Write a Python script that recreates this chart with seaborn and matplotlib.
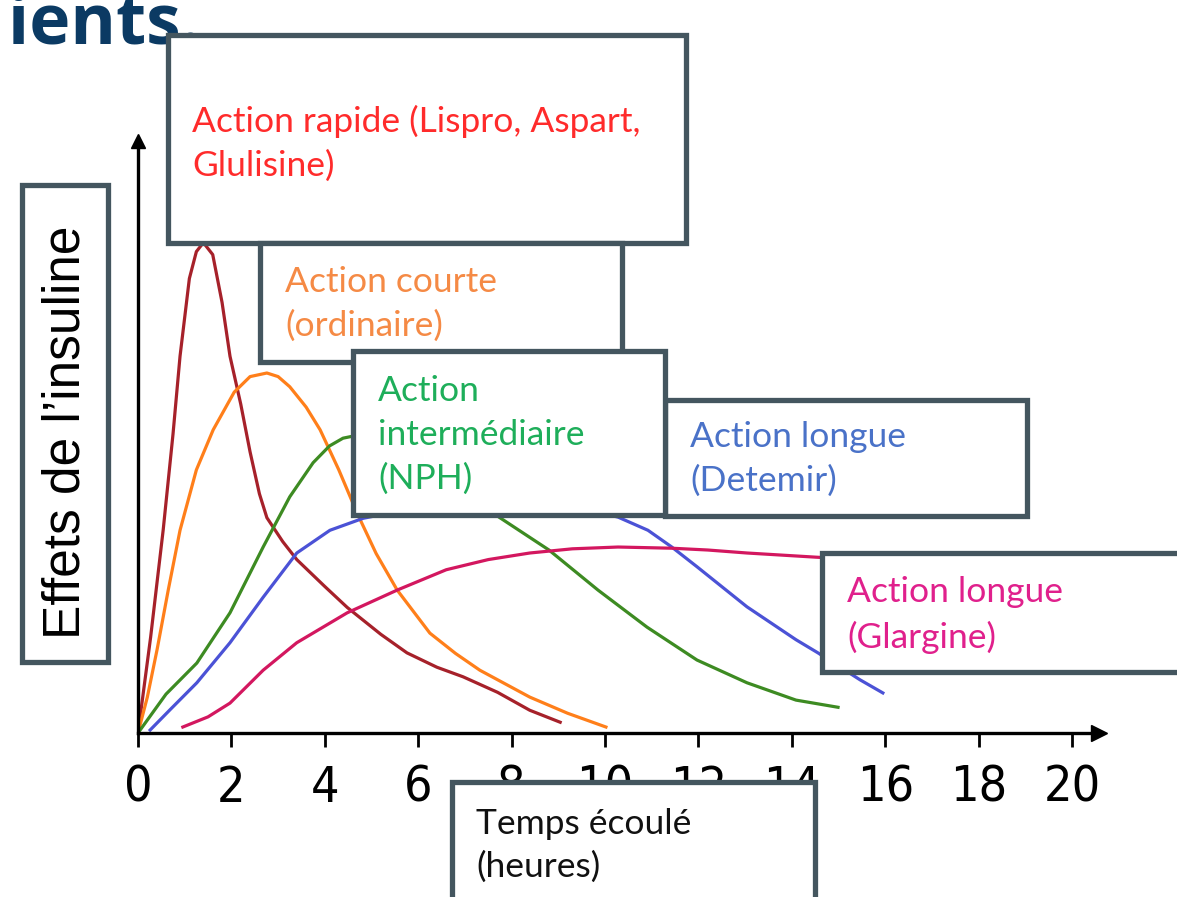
import matplotlib
matplotlib.use("Agg")
import matplotlib.pyplot as plt
from matplotlib.patches import Rectangle
from matplotlib import font_manager
import seaborn as sns
import pandas as pd

# ---------------- data ----------------
rapid_h = [0, 0.27, 0.54, 0.75, 0.9, 1.1, 1.25, 1.4, 1.6, 1.8, 1.97, 2.2, 2.4, 2.6, 2.76, 3.1, 3.4, 4.0, 4.48, 5.2, 5.76, 6.4, 6.96, 7.7, 8.39, 9.04]
rapid_e = [0, 16, 34, 50, 63, 76, 80.5, 82, 80, 72, 63, 55, 47, 40, 36, 32, 29, 24.5, 21, 16.5, 13.4, 11, 9.4, 6.8, 3.8, 1.8]

courte_h = [0, 0.2, 0.41, 0.65, 0.9, 1.25, 1.61, 2.06, 2.4, 2.76, 3.0, 3.25, 3.6, 3.9, 4.3, 4.69, 5.1, 5.55, 6.25, 6.8, 7.32, 8.39, 9.2, 10.02]
courte_e = [0, 6, 14, 24, 33.9, 44, 50.7, 57, 59.6, 60.2, 59.6, 57.9, 54.5, 50.7, 44, 36.8, 30, 23.9, 16.7, 13.3, 10.5, 6.0, 3.3, 1.0]

nph_h = [0, 0.6, 1.26, 1.97, 2.68, 3.25, 3.75, 4.1, 4.39, 4.7, 5.3, 6.0, 6.8, 7.3, 7.73, 8.8, 9.85, 10.9, 11.97, 13.04, 14.09, 14.99]
nph_e = [0, 6.5, 11.7, 20.1, 31.1, 39.5, 45.2, 48, 49.3, 49.8, 49, 46.5, 42, 39, 36.1, 30.6, 23.9, 17.7, 12.2, 8.4, 5.5, 4.3]

detemir_h = [0.26, 0.7, 1.26, 1.97, 2.68, 3.4, 4.11, 4.82, 5.4, 6.2, 7.0, 8.0, 9.0, 9.8, 10.28, 10.92, 11.43, 11.97, 13.04, 14.09, 14.56, 15.46, 15.95]
detemir_e = [0.5, 4, 8.4, 15.1, 22.7, 30.1, 33.9, 35.9, 36.8, 37.3, 37.6, 37.8, 37.6, 37, 36.1, 33.9, 31.1, 27.8, 21.1, 15.6, 13.4, 8.9, 6.7]

glargine_h = [0.96, 1.5, 1.97, 2.68, 3.4, 4.48, 5.55, 6.6, 7.5, 8.39, 9.3, 10.28, 11.43, 12.2, 13.04, 14.52, 15.0]
glargine_e = [1.0, 2.7, 5.0, 10.5, 15.1, 20.1, 23.9, 27.3, 29.0, 30.1, 30.8, 31.1, 30.9, 30.6, 30.1, 29.4, 29.2]

x_ticks = [0, 2, 4, 6, 8, 10, 12, 14, 16, 18, 20]
x_tick_labels = [str(t) for t in x_ticks]

series_names = ["rapide", "courte", "nph", "detemir", "glargine"]
line_colors = ["#A6212A", "#FF7F1A", "#3D8B22", "#4B52D6", "#D3175F"]

labels = [
    "Action rapide (Lispro, Aspart,\nGlulisine)",
    "Action courte\n(ordinaire)",
    "Action\nintermédiaire\n(NPH)",
    "Action longue\n(Detemir)",
    "Action longue\n(Glargine)",
]
label_colors = ["#FF2B2B", "#F58A45", "#1EAE5A", "#4A72C8", "#E0208C"]

ylabel = "Effets de l’insuline"
xlabel = "Temps écoulé\n(heures)"
title_fragment = "ients."

frames = []
for name, h, e in zip(series_names,
                      [rapid_h, courte_h, nph_h, detemir_h, glargine_h],
                      [rapid_e, courte_e, nph_e, detemir_e, glargine_e]):
    frames.append(pd.DataFrame({"heures": h, "effet": e, "type": name}))
df = pd.concat(frames, ignore_index=True)

# ---------------- figure ----------------
W, H = 1177, 897
fig = plt.figure(figsize=(W / 100, H / 100), dpi=100)
fig.patch.set_facecolor("white")

def fx(px):
    return px / W

def fy(py):
    return 1 - py / H

ax_left, ax_right, ax_bottom, ax_top = 138, 1099, 733, 141
ax = fig.add_axes([fx(ax_left), fy(ax_bottom), fx(ax_right - ax_left), (ax_bottom - ax_top) / H])
ax.set_facecolor("none")

sns.lineplot(data=df, x="heures", y="effet", hue="type", palette=dict(zip(series_names, line_colors)),
             sort=False, estimator=None, linewidth=2.3, legend=False, ax=ax)

px_per_hour = (1072 - 138) / 20
ax.set_xlim(0, (ax_right - ax_left) / px_per_hour)
ax.set_ylim(0, (ax_bottom - ax_top) / 5.98)
for s in ["top", "right"]:
    ax.spines[s].set_visible(False)
for s in ["left", "bottom"]:
    ax.spines[s].set_linewidth(2.4)
    ax.spines[s].set_color("black")
    ax.spines[s].set_zorder(5)
ax.set_yticks([])
ax.set_xticks(x_ticks)

tick_font = font_manager.FontProperties(family="DejaVu Sans", stretch="condensed", size=36)
ax.set_xticklabels(x_tick_labels, fontproperties=tick_font)
ax.tick_params(axis="x", direction="out", length=10, width=2, pad=12, colors="black")
ax.set_xlabel("")
ax.set_ylabel("")

# arrow heads
ax.plot(1, 0, marker=">", color="black", markersize=12, transform=ax.transAxes, clip_on=False)
ax.plot(0, 1, marker="^", color="black", markersize=10, transform=ax.transAxes, clip_on=False)

# title fragment (cut off at the top of the slide)
fig.text(fx(8), fy(44), title_fragment, fontsize=50, fontweight="bold", color="#0B3A63",
         fontfamily=["Open Sans", "DejaVu Sans"], ha="left", va="baseline", zorder=2)

edge = "#44565F"

def box(x0, y0, x1, y1, z):
    r = Rectangle((fx(x0), fy(y1)), fx(x1 - x0), (y1 - y0) / H, transform=fig.transFigure,
                  facecolor="white", edgecolor=edge, linewidth=3.8, zorder=z)
    fig.add_artist(r)

text_font = ["Lato", "DejaVu Sans"]

# label boxes: (x0, y0, x1, y1, text x, text block centre y, label index)
boxes = [
    (168, 35, 686, 243, 192, 143, 0),
    (260, 243, 622, 362, 285, 304, 1),
    (665, 400, 1027, 516, 690, 459, 3),
    (353, 351, 665, 515, 378, 435, 2),
    (822, 553, 1190, 672, 847, 615, 4),
]
for idx, (x0, y0, x1, y1, tx, ty, li) in enumerate(boxes):
    z = 10 + 2 * idx
    box(x0, y0, x1, y1, z)
    fig.text(fx(tx), fy(ty), labels[li], color=label_colors[li], fontsize=25.5,
             fontfamily=text_font, ha="left", va="center", linespacing=1.45,
             zorder=z + 1)

# axis label boxes
box(22, 185, 108, 662, 30)
fig.text(fx(66), fy(432), ylabel, rotation=90, fontsize=37, color="black",
         fontfamily=["Liberation Sans", "DejaVu Sans"], ha="center", va="center", zorder=31)

box(452, 782, 815, 910, 32)
fig.text(fx(476), fy(845), xlabel, fontsize=25.5, color="#111111",
         fontfamily=text_font, ha="left", va="center", linespacing=1.4, zorder=33)

fig.savefig("out.png", dpi=100, facecolor="white")
